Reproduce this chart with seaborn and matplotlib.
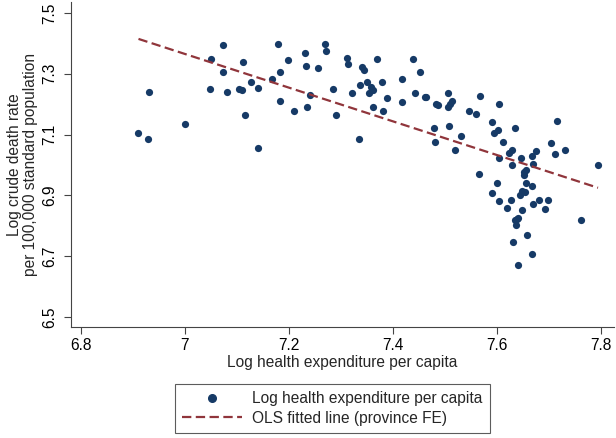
import matplotlib
matplotlib.use('Agg')
import matplotlib.pyplot as plt
from matplotlib.lines import Line2D
import seaborn as sns
import numpy as np
import pandas as pd

# log health expenditure per capita (x) and log crude death rate (y)
log_health_exp = [
    6.911, 6.930, 6.932, 7.000, 7.051, 7.048, 7.074, 7.074, 7.082, 7.104,
    7.109, 7.111, 7.116, 7.128, 7.140, 7.141, 7.167, 7.180, 7.183, 7.182,
    7.198, 7.209, 7.230, 7.232, 7.241, 7.235, 7.256, 7.270, 7.272, 7.284,
    7.290, 7.311, 7.314, 7.321, 7.335, 7.336, 7.340, 7.345, 7.350, 7.353,
    7.358, 7.361, 7.362, 7.370, 7.378, 7.381, 7.388, 7.417, 7.417, 7.439,
    7.442, 7.451, 7.462, 7.464, 7.478, 7.480, 7.483, 7.487, 7.506, 7.506,
    7.508, 7.510, 7.514, 7.519, 7.530, 7.546, 7.560, 7.566, 7.568, 7.590,
    7.590, 7.594, 7.599, 7.602, 7.603, 7.604, 7.604, 7.611, 7.619, 7.623,
    7.626, 7.628, 7.628, 7.631, 7.635, 7.635, 7.637, 7.638, 7.640, 7.644,
    7.646, 7.647, 7.648, 7.651, 7.652, 7.655, 7.656, 7.654, 7.657, 7.641,
    7.667, 7.667, 7.667, 7.670, 7.670, 7.674, 7.680, 7.692, 7.698, 7.704,
    7.711, 7.716, 7.731, 7.762, 7.794,
]
log_death_rate = [
    7.105, 7.085, 7.239, 7.135, 7.347, 7.249, 7.393, 7.306, 7.239, 7.249,
    7.245, 7.340, 7.164, 7.272, 7.056, 7.254, 7.283, 7.396, 7.306, 7.209,
    7.345, 7.178, 7.367, 7.326, 7.231, 7.192, 7.319, 7.398, 7.374, 7.251,
    7.163, 7.353, 7.331, 7.235, 7.086, 7.262, 7.321, 7.312, 7.274, 7.236,
    7.255, 7.245, 7.190, 7.348, 7.274, 7.176, 7.221, 7.283, 7.206, 7.348,
    7.235, 7.305, 7.224, 7.223, 7.121, 7.074, 7.202, 7.197, 7.236, 7.192,
    7.128, 7.201, 7.209, 7.050, 7.094, 7.176, 7.169, 6.971, 7.226, 7.140,
    6.908, 7.105, 6.940, 7.116, 7.201, 7.023, 6.883, 7.075, 6.858, 7.041,
    6.886, 7.048, 7.001, 6.747, 7.121, 6.818, 6.803, 6.821, 6.825, 6.902,
    7.022, 6.852, 6.913, 6.968, 6.976, 6.985, 6.941, 6.910, 6.770, 6.671,
    6.932, 7.031, 6.706, 6.872, 7.003, 7.047, 6.886, 6.857, 6.886, 7.072,
    7.037, 7.143, 7.049, 6.819, 7.000,
]

# OLS fitted line (province FE)
fit_intercept = 11.243
fit_slope = -0.554

x_ticks = [6.8, 7, 7.2, 7.4, 7.6, 7.8]
x_tick_labels = ['6.8', '7', '7.2', '7.4', '7.6', '7.8']
y_ticks = [6.5, 6.7, 6.9, 7.1, 7.3, 7.5]

dot_color = '#163a66'
line_color = '#90353b'
fs = 11.2

df = pd.DataFrame({'x': log_health_exp, 'y': log_death_rate})
x_fit = np.array([min(log_health_exp), max(log_health_exp)])
fit_df = pd.DataFrame({'x': x_fit, 'y': fit_intercept + fit_slope * x_fit})

sns.set_style('ticks')
plt.rcParams['font.family'] = ['Liberation Sans', 'DejaVu Sans']
plt.rcParams['font.size'] = fs

fig = plt.figure(figsize=(6.16, 4.38), dpi=100)
ax = fig.add_axes([0.115, 0.253, 0.882, 0.742])

sns.scatterplot(data=df, x='x', y='y', ax=ax, color=dot_color, s=27,
                linewidth=0, legend=False)
sns.lineplot(data=fit_df, x='x', y='y', ax=ax, color=line_color,
             linewidth=1.6, legend=False)
ax.lines[-1].set_dashes((4.2, 2.0))

ax.set_xlim(6.781, 7.825)
ax.set_ylim(6.467, 7.535)
ax.set_xticks(x_ticks)
ax.set_xticklabels(x_tick_labels)
ax.set_yticks(y_ticks)
ax.set_yticklabels([str(v) for v in y_ticks], rotation=90, va='center')
ax.tick_params(axis='both', length=5, width=0.8, color='#444444',
               labelsize=fs, labelcolor='black')
ax.tick_params(axis='y', pad=5)
ax.tick_params(axis='x', pad=3)

sns.despine(ax=ax)
for side in ['left', 'bottom']:
    ax.spines[side].set_color('#444444')
    ax.spines[side].set_linewidth(0.8)

ax.set_xlabel('Log health expenditure per capita', fontsize=fs, labelpad=1)
ax.set_ylabel('Log crude death rate\nper 100,000 standard population',
              fontsize=fs, labelpad=3, linespacing=1.05)

handles = [
    Line2D([], [], marker='o', color=dot_color, linestyle='none', markersize=5.5),
    Line2D([], [], color=line_color, linewidth=1.6, dashes=(4.2, 2.0)),
]
labels = ['Log health expenditure per capita', 'OLS fitted line (province FE)']
leg = fig.legend(handles, labels, loc='center', bbox_to_anchor=(0.539, 0.067),
                 frameon=True, fancybox=False, handlelength=3.9,
                 handletextpad=0.64, labelspacing=0.28, borderpad=0.45,
                 fontsize=fs)
leg.get_frame().set_edgecolor('#333333')
leg.get_frame().set_linewidth(0.8)

fig.savefig('out.png', dpi=100)
